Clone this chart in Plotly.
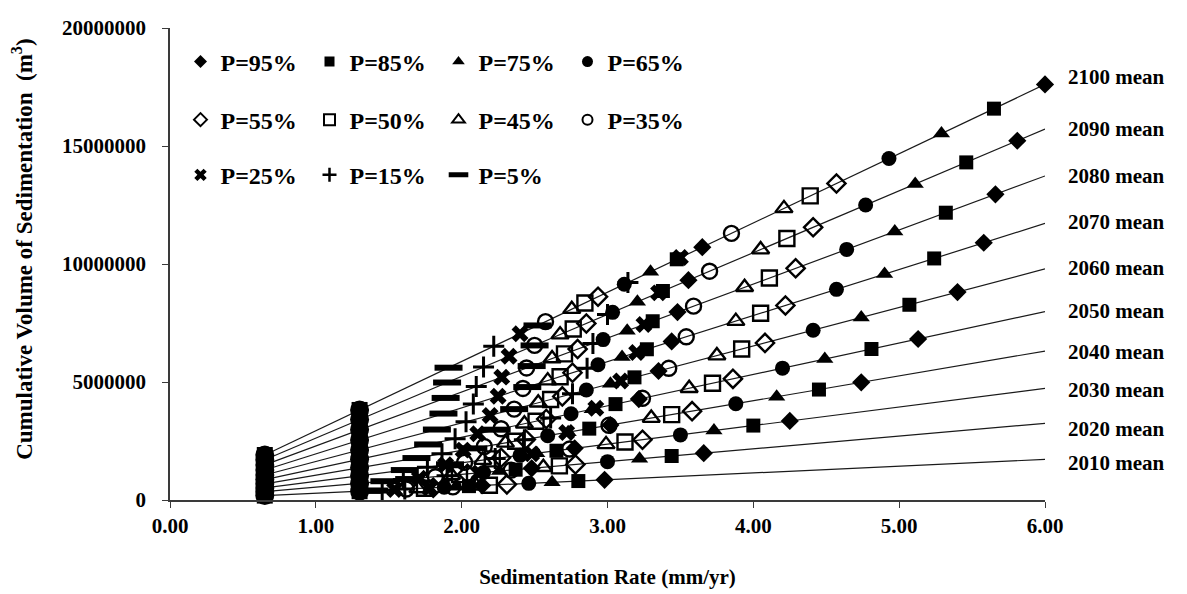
import plotly.graph_objects as go

# Planning horizons (one "mean" line each)
horizons = ["2010", "2020", "2030", "2040", "2050", "2060", "2070", "2080", "2090", "2100"]

# Cumulative sediment volume produced by 1 mm/yr of deposition up to each horizon (m3 per mm/yr)
volume_per_mm = [286700, 541700, 788300, 1051700, 1330000, 1631700, 1953300, 2288300, 2620000, 2935000]

# Extent of the mean lines along the rate axis (mm/yr)
line_rates = [0.65, 6.00]

# Historical sedimentation rates (mm/yr)
historical_rates = [0.65, 1.30]

# Percentile labels
percentiles = ["P=95%", "P=85%", "P=75%", "P=65%", "P=55%", "P=50%",
               "P=45%", "P=35%", "P=25%", "P=15%", "P=5%"]

# Projected sedimentation rate (mm/yr) per horizon 2010..2100 - full projection
rate_p95 = [2.98, 3.66, 4.25, 4.74, 5.13, 5.40, 5.58, 5.66, 5.81, 6.00]
rate_p85 = [2.80, 3.44, 4.00, 4.45, 4.81, 5.07, 5.24, 5.32, 5.46, 5.65]
rate_p75 = [2.62, 3.22, 3.73, 4.16, 4.49, 4.74, 4.90, 4.97, 5.11, 5.29]
rate_p65 = [2.46, 3.00, 3.50, 3.88, 4.20, 4.41, 4.57, 4.64, 4.77, 4.93]
rate_p55 = [2.31, 2.78, 3.24, 3.58, 3.86, 4.08, 4.22, 4.29, 4.41, 4.57]
rate_p50 = [2.19, 2.67, 3.12, 3.44, 3.72, 3.92, 4.05, 4.11, 4.23, 4.39]
rate_p45 = [2.10, 2.56, 2.99, 3.30, 3.56, 3.75, 3.88, 3.94, 4.05, 4.21]
rate_p35 = [1.94, 2.34, 2.74, 3.01, 3.24, 3.42, 3.54, 3.59, 3.70, 3.85]
rate_p25 = [1.78, 2.12, 2.48, 2.72, 2.92, 3.09, 3.20, 3.25, 3.35, 3.50]
rate_p15 = [1.61, 1.90, 2.23, 2.43, 2.61, 2.76, 2.86, 2.90, 3.00, 3.14]
rate_p5 = [1.40, 1.64, 1.92, 2.08, 2.24, 2.36, 2.45, 2.48, 2.50, 2.52]

# Projected sedimentation rate (mm/yr) per horizon 2010..2100 - half projection
half_p95 = [2.14, 2.48, 2.775, 3.02, 3.215, 3.35, 3.44, 3.48, 3.555, 3.65]
half_p85 = [2.05, 2.37, 2.65, 2.875, 3.055, 3.185, 3.27, 3.31, 3.38, 3.475]
half_p75 = [1.96, 2.26, 2.515, 2.73, 2.895, 3.02, 3.10, 3.135, 3.205, 3.295]
half_p65 = [1.88, 2.15, 2.40, 2.59, 2.75, 2.855, 2.935, 2.97, 3.035, 3.115]
half_p55 = [1.805, 2.04, 2.27, 2.44, 2.58, 2.69, 2.76, 2.795, 2.855, 2.935]
half_p50 = [1.745, 1.985, 2.21, 2.37, 2.51, 2.61, 2.675, 2.705, 2.765, 2.845]
half_p45 = [1.70, 1.93, 2.145, 2.30, 2.43, 2.525, 2.59, 2.62, 2.675, 2.755]
half_p35 = [1.62, 1.82, 2.02, 2.155, 2.27, 2.36, 2.42, 2.445, 2.50, 2.575]
half_p25 = [1.54, 1.71, 1.89, 2.01, 2.11, 2.195, 2.25, 2.275, 2.325, 2.40]
half_p15 = [1.455, 1.60, 1.765, 1.865, 1.955, 2.03, 2.08, 2.10, 2.15, 2.22]
half_p5 = [1.35, 1.47, 1.61, 1.69, 1.77, 1.83, 1.875, 1.89, 1.90, 1.91]

full_rates = [rate_p95, rate_p85, rate_p75, rate_p65, rate_p55, rate_p50,
              rate_p45, rate_p35, rate_p25, rate_p15, rate_p5]
half_rates = [half_p95, half_p85, half_p75, half_p65, half_p55, half_p50,
              half_p45, half_p35, half_p25, half_p15, half_p5]

FONT = "Liberation Serif"
BLACK = "#000000"
AXIS = "#3a3a3a"

# marker style per percentile: symbol, plot size, outline width, legend size, legend outline
styles = [
    ("diamond", 14, 0, 10, 0),
    ("square", 14, 0, 10, 0),
    ("triangle-up", 15, 0, 11, 0),
    ("circle", 15, 0, 11, 0),
    ("diamond-open", 14, 2.4, 10, 2),
    ("square-open", 15, 2.4, 11, 2),
    ("triangle-up-open", 15, 2.4, 11, 2),
    ("circle-open", 15, 2.4, 10, 2),
    ("x", 15, 0, 11, 0),
    ("cross-thin-open", 15, 3, 10, 2.5),
    ("line-ew-open", 20, 6, 14, 5),
]
legend_ids = ["legend"] * 4 + ["legend2"] * 4 + ["legend3"] * 3

fig = go.Figure()

# mean lines: volume grows linearly with the deposition rate
for h, vpm in zip(horizons, volume_per_mm):
    fig.add_trace(go.Scatter(
        x=line_rates, y=[r * vpm for r in line_rates], mode="lines",
        line=dict(color="#1a1a1a", width=1.2), showlegend=False, hoverinfo="skip",
        name=h + " mean"))

# historical rates at every horizon
hx, hy = [], []
for vpm in volume_per_mm:
    for r in historical_rates:
        hx.append(r)
        hy.append(r * vpm)
for sym, size in (("circle", 19), ("square", 16)):
    fig.add_trace(go.Scatter(
        x=hx, y=hy, mode="markers", showlegend=False, hoverinfo="skip",
        marker=dict(symbol=sym, size=size, color=BLACK), cliponaxis=False))

# percentile projections
for name, full, half, (sym, size, lw, lsize, llw), lg in zip(
        percentiles, full_rates, half_rates, styles, legend_ids):
    xs = full + half
    ys = [r * vpm for r, vpm in zip(full, volume_per_mm)] + \
         [r * vpm for r, vpm in zip(half, volume_per_mm)]
    fig.add_trace(go.Scatter(
        x=xs, y=ys, mode="markers", name=name, legendgroup=name, showlegend=False,
        cliponaxis=False,
        marker=dict(symbol=sym, size=size, color=BLACK,
                    line=dict(color=BLACK, width=lw))))
    # legend key with a smaller symbol
    fig.add_trace(go.Scatter(
        x=[None], y=[None], mode="markers", name=name, legendgroup=name, legend=lg,
        marker=dict(symbol=sym, size=lsize, color=BLACK,
                    line=dict(color=BLACK, width=llw))))

# horizon labels at the right end of each mean line
label_shift = [-4, -6, -2, -1, 1, 1, 1, 0, 0, 7]
for h, vpm, dy in zip(horizons, volume_per_mm, label_shift):
    fig.add_annotation(x=line_rates[-1], y=line_rates[-1] * vpm, text=h + " mean",
                       showarrow=False, xanchor="left", yanchor="middle",
                       xshift=21, yshift=dy,
                       font=dict(family=FONT, size=21, color=BLACK, weight="bold"))

fig.add_annotation(x=-0.168, y=0.53, xref="paper", yref="paper", textangle=-90,
                   xanchor="center", yanchor="middle",
                   text="Cumulative Volume of Sedimentation  (m<sup>3</sup>)",
                   showarrow=False, font=dict(family=FONT, size=23, color=BLACK, weight="bold"))

legend_common = dict(orientation="h", font=dict(family=FONT, size=24, color=BLACK, weight="bold"),
                     bgcolor="rgba(0,0,0,0)", itemsizing="trace",
                     entrywidth=84, entrywidthmode="pixels",
                     xanchor="left", yanchor="middle", itemclick=False, itemdoubleclick=False)

fig.update_layout(
    width=1187, height=594,
    margin=dict(l=170, r=142, t=28, b=94, autoexpand=False),
    paper_bgcolor="white", plot_bgcolor="white",
    font=dict(family=FONT, color=BLACK, weight="bold"),
    legend=dict(x=0.012, y=0.928, **legend_common),
    legend2=dict(x=0.012, y=0.805, **legend_common),
    legend3=dict(x=0.012, y=0.688, **legend_common),
    xaxis=dict(range=[0, 6], dtick=1, tickformat=".2f", showgrid=False, zeroline=False,
               showline=True, linecolor=AXIS, linewidth=1.5, automargin=False,
               ticks="outside", ticklen=6, tickcolor=AXIS,
               tickfont=dict(family=FONT, size=21, color=BLACK, weight="bold"),
               title=dict(text="Sedimentation Rate (mm/yr)", standoff=32,
                          font=dict(family=FONT, size=21, color=BLACK, weight="bold"))),
    yaxis=dict(range=[0, 20000000], dtick=5000000, tickformat="d", showgrid=False,
               zeroline=False, showline=True, linecolor=AXIS, linewidth=1.5, automargin=False,
               ticks="outside", ticklen=6, tickcolor=AXIS, ticklabelstandoff=12,
               tickfont=dict(family=FONT, size=21, color=BLACK, weight="bold")),
)

fig.write_html("out.html")
